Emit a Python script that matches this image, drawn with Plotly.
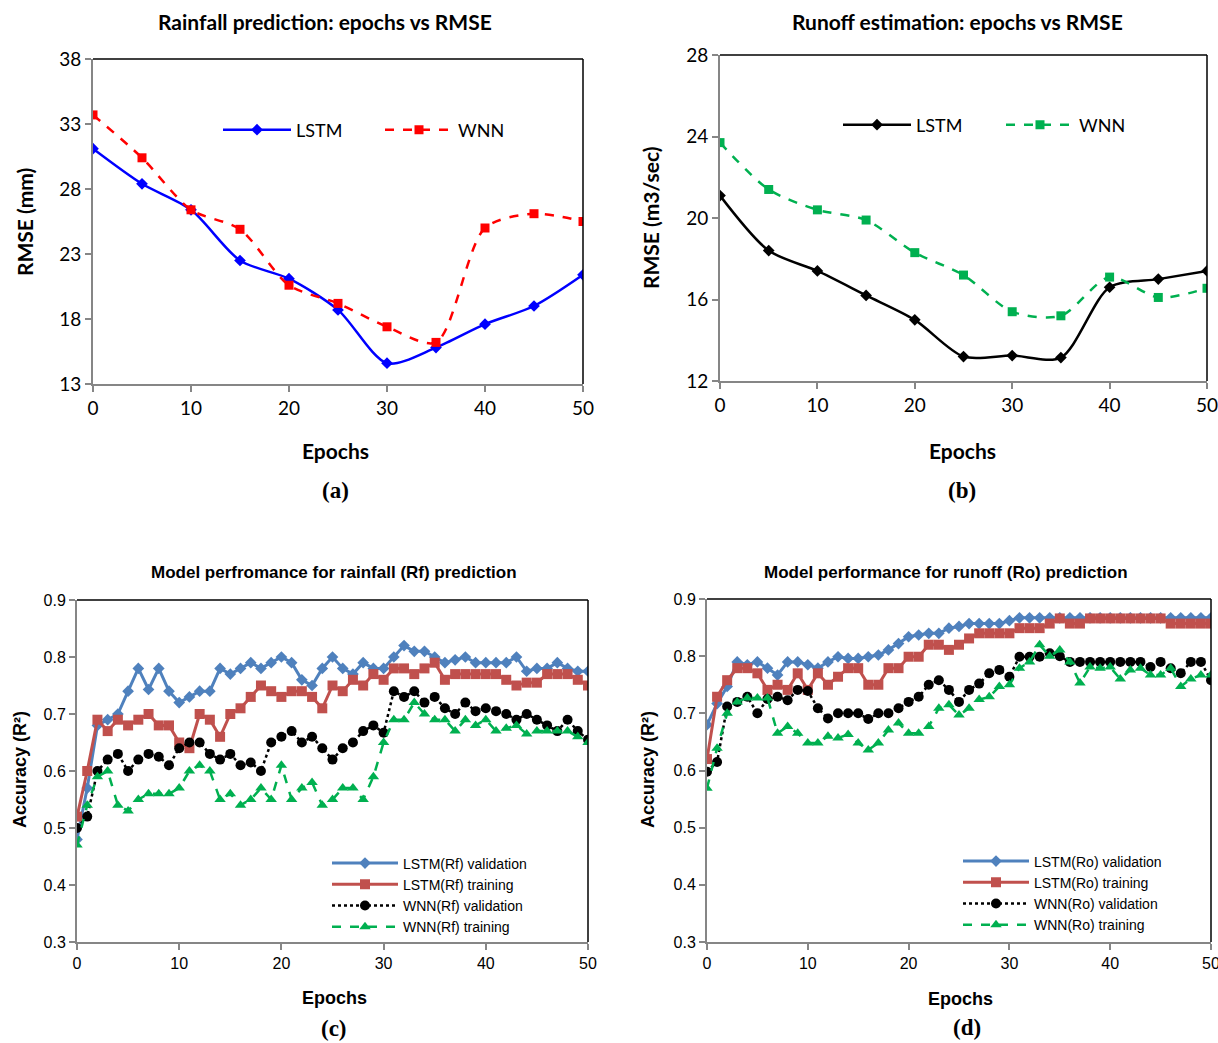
import plotly.graph_objects as go

W, H = 1218, 1043

# ---------------- data ----------------
epochs_ab = [0, 5, 10, 15, 20, 25, 30, 35, 40, 45, 50]
rain_lstm = [31.1, 28.4, 26.4, 22.5, 21.1, 18.7, 14.6, 15.8, 17.6, 19.0, 21.4]
rain_wnn = [33.7, 30.4, 26.4, 24.9, 20.6, 19.2, 17.4, 16.2, 25.0, 26.1, 25.5]
runoff_lstm = [21.1, 18.4, 17.4, 16.2, 15.0, 13.2, 13.25, 13.15, 16.6, 17.0, 17.4]
runoff_wnn = [23.7, 21.4, 20.4, 19.9, 18.3, 17.2, 15.4, 15.2, 17.1, 16.1, 16.55]

epochs_cd = list(range(51))
rf_lstm_val = [0.48, 0.57, 0.68, 0.69, 0.70, 0.74, 0.78, 0.743, 0.78, 0.74,
               0.72, 0.73, 0.74, 0.74, 0.78, 0.77, 0.78, 0.79, 0.78, 0.79,
               0.80, 0.79, 0.76, 0.75, 0.78, 0.80, 0.78, 0.77, 0.79, 0.78,
               0.78, 0.80, 0.82, 0.81, 0.81, 0.80, 0.79, 0.795, 0.80, 0.79,
               0.79, 0.79, 0.79, 0.80, 0.775, 0.78, 0.78, 0.79, 0.78, 0.775,
               0.775]
rf_lstm_train = [0.52, 0.60, 0.69, 0.67, 0.69, 0.68, 0.69, 0.70, 0.68, 0.68,
                 0.65, 0.64, 0.70, 0.69, 0.66, 0.70, 0.71, 0.73, 0.75, 0.74,
                 0.73, 0.74, 0.74, 0.73, 0.71, 0.75, 0.74, 0.76, 0.75, 0.77,
                 0.76, 0.78, 0.78, 0.77, 0.78, 0.79, 0.76, 0.77, 0.77, 0.77,
                 0.77, 0.77, 0.76, 0.75, 0.755, 0.755, 0.77, 0.77, 0.77, 0.76,
                 0.75]
rf_wnn_val = [0.50, 0.52, 0.60, 0.62, 0.63, 0.60, 0.62, 0.63, 0.625, 0.61,
              0.64, 0.65, 0.65, 0.63, 0.62, 0.63, 0.61, 0.615, 0.60, 0.65,
              0.66, 0.67, 0.65, 0.66, 0.64, 0.62, 0.64, 0.65, 0.67, 0.68,
              0.667, 0.74, 0.73, 0.74, 0.72, 0.73, 0.71, 0.70, 0.72, 0.705,
              0.71, 0.705, 0.70, 0.69, 0.70, 0.69, 0.68, 0.67, 0.69, 0.67,
              0.655]
rf_wnn_train = [0.47, 0.54, 0.59, 0.60, 0.54, 0.53, 0.55, 0.56, 0.56, 0.56,
                0.57, 0.60, 0.61, 0.60, 0.55, 0.56, 0.54, 0.55, 0.57, 0.55,
                0.61, 0.55, 0.57, 0.58, 0.54, 0.55, 0.57, 0.57, 0.55, 0.59,
                0.65, 0.69, 0.69, 0.72, 0.70, 0.69, 0.69, 0.67, 0.69, 0.68,
                0.69, 0.67, 0.675, 0.68, 0.665, 0.67, 0.67, 0.67, 0.67, 0.66,
                0.65]

ro_lstm_val = [0.68, 0.717, 0.747, 0.79, 0.785, 0.79, 0.779, 0.767, 0.79, 0.79,
               0.785, 0.779, 0.79, 0.799, 0.796, 0.796, 0.799, 0.802, 0.811, 0.822,
               0.834, 0.837, 0.84, 0.84, 0.849, 0.852, 0.857, 0.857, 0.857, 0.857,
               0.862, 0.867, 0.867, 0.867, 0.867, 0.867, 0.867, 0.867, 0.867, 0.867,
               0.867, 0.867, 0.867, 0.867, 0.867, 0.867, 0.867, 0.867, 0.867, 0.867,
               0.867]
ro_lstm_train = [0.62, 0.729, 0.758, 0.779, 0.779, 0.77, 0.741, 0.75, 0.741, 0.77,
                 0.741, 0.77, 0.75, 0.764, 0.779, 0.779, 0.75, 0.75, 0.779, 0.779,
                 0.799, 0.799, 0.82, 0.82, 0.811, 0.82, 0.831, 0.84, 0.84, 0.84,
                 0.84, 0.849, 0.849, 0.849, 0.857, 0.866, 0.857, 0.857, 0.866, 0.866,
                 0.866, 0.866, 0.866, 0.866, 0.866, 0.866, 0.857, 0.857, 0.857, 0.857,
                 0.857]
ro_wnn_val = [0.598, 0.615, 0.712, 0.72, 0.729, 0.70, 0.725, 0.729, 0.723, 0.741,
              0.739, 0.709, 0.691, 0.70, 0.70, 0.70, 0.69, 0.70, 0.70, 0.709,
              0.72, 0.729, 0.75, 0.758, 0.741, 0.72, 0.741, 0.752, 0.77, 0.776,
              0.764, 0.799, 0.799, 0.799, 0.805, 0.80, 0.79, 0.79, 0.79, 0.79,
              0.79, 0.79, 0.79, 0.79, 0.781, 0.79, 0.779, 0.77, 0.79, 0.79,
              0.758]
ro_wnn_train = [0.569, 0.639, 0.70, 0.72, 0.727, 0.727, 0.727, 0.665, 0.677, 0.665,
                0.648, 0.648, 0.66, 0.657, 0.663, 0.648, 0.636, 0.648, 0.671, 0.683,
                0.665, 0.665, 0.677, 0.709, 0.715, 0.697, 0.709, 0.724, 0.729, 0.747,
                0.75, 0.779, 0.79, 0.82, 0.80, 0.811, 0.79, 0.753, 0.781, 0.779,
                0.781, 0.76, 0.776, 0.779, 0.767, 0.767, 0.779, 0.747, 0.76, 0.767,
                0.767]

# ---------------- style ----------------
CAL = "Lato, Carlito, Calibri, sans-serif"
ARI = "Liberation Sans, Arial, sans-serif"
SER = "Liberation Serif, Times New Roman, serif"
GRAY = "#868686"

def px_x(p):
    return p / W

def px_y(p):
    return 1 - p / H

# plot areas (window pixels): left, right, top, bottom
areas = {
    "a": (93, 583, 59, 384),
    "b": (720, 1207, 55, 381),
    "c": (77, 588, 600, 942),
    "d": (707, 1211, 599, 942),
}

fig = go.Figure()

# (a)
fig.add_trace(go.Scatter(x=epochs_ab, y=rain_lstm, name="LSTM", mode="lines+markers",
                         line=dict(color="#0000FF", width=2.5, shape="spline", smoothing=0.8),
                         marker=dict(symbol="diamond", size=9, color="#0000FF"),
                         xaxis="x", yaxis="y", legend="legend"))
fig.add_trace(go.Scatter(x=epochs_ab, y=rain_wnn, name="WNN", mode="lines+markers",
                         line=dict(color="#FF0000", width=2.5, dash="dash", shape="spline", smoothing=0.8),
                         marker=dict(symbol="square", size=9, color="#FF0000"),
                         xaxis="x", yaxis="y", legend="legend"))
# (b)
fig.add_trace(go.Scatter(x=epochs_ab, y=runoff_lstm, name="LSTM", mode="lines+markers",
                         line=dict(color="#000000", width=2.5, shape="spline", smoothing=0.8),
                         marker=dict(symbol="diamond", size=9, color="#000000"),
                         xaxis="x2", yaxis="y2", legend="legend2"))
fig.add_trace(go.Scatter(x=epochs_ab, y=runoff_wnn, name="WNN", mode="lines+markers",
                         line=dict(color="#00B050", width=2.5, dash="dash", shape="spline", smoothing=0.8),
                         marker=dict(symbol="square", size=9, color="#00B050"),
                         xaxis="x2", yaxis="y2", legend="legend2"))

# (c) & (d)
def four(xa, ya, leg, tag, lv, lt, wv, wt):
    fig.add_trace(go.Scatter(x=epochs_cd, y=lv, name=f"LSTM({tag}) validation", mode="lines+markers",
                             line=dict(color="#4F81BD", width=3),
                             marker=dict(symbol="diamond", size=9, color="#4F81BD"),
                             xaxis=xa, yaxis=ya, legend=leg))
    fig.add_trace(go.Scatter(x=epochs_cd, y=lt, name=f"LSTM({tag}) training", mode="lines+markers",
                             line=dict(color="#C0504D", width=3),
                             marker=dict(symbol="square", size=10, color="#C0504D"),
                             xaxis=xa, yaxis=ya, legend=leg))
    fig.add_trace(go.Scatter(x=epochs_cd, y=wv, name=f"WNN({tag}) validation", mode="lines+markers",
                             line=dict(color="#000000", width=2.5, dash="dot"),
                             marker=dict(symbol="circle", size=10, color="#000000"),
                             xaxis=xa, yaxis=ya, legend=leg))
    fig.add_trace(go.Scatter(x=epochs_cd, y=wt, name=f"WNN({tag}) training", mode="lines+markers",
                             line=dict(color="#00B050", width=2.5, dash="dash"),
                             marker=dict(symbol="triangle-up", size=10, color="#00B050"),
                             xaxis=xa, yaxis=ya, legend=leg))

four("x3", "y3", "legend3", "Rf", rf_lstm_val, rf_lstm_train, rf_wnn_val, rf_wnn_train)
four("x4", "y4", "legend4", "Ro", ro_lstm_val, ro_lstm_train, ro_wnn_val, ro_wnn_train)

layout = dict(width=W, height=H, autosize=False,
              margin=dict(l=0, r=0, t=0, b=0, autoexpand=False),
              paper_bgcolor="white", plot_bgcolor="white",
              showlegend=True)

def axes(key, suffix, yrange, ydtick, font, size, yfmt=None):
    l, r, t, b = areas[key]
    layout["xaxis" + suffix] = dict(
        domain=[px_x(l), px_x(r)], range=[0, 50], tick0=0, dtick=10,
        anchor="y" + suffix, showgrid=False, zeroline=False,
        showline=True, linecolor=GRAY, linewidth=1.5,
        ticks="outside", ticklen=6, tickcolor=GRAY, tickwidth=1.5,
        ticklabeloverflow="allow",
        tickfont=dict(family=font, size=size, color="black"))
    ya = dict(
        domain=[px_y(b), px_y(t)], range=yrange, tick0=yrange[0], dtick=ydtick,
        anchor="x" + suffix, showgrid=False, zeroline=False,
        showline=True, linecolor=GRAY, linewidth=2,
        ticks="outside", ticklen=6, tickcolor=GRAY, tickwidth=1.5,
        ticklabeloverflow="allow",
        tickfont=dict(family=font, size=size, color="black"))
    if yfmt:
        ya["tickformat"] = yfmt
    layout["yaxis" + suffix] = ya

axes("a", "", [13, 38], 5, CAL, 19)
axes("b", "2", [12, 28], 4, CAL, 19)
axes("c", "3", [0.3, 0.9], 0.1, ARI, 16, ".1f")
axes("d", "4", [0.3, 0.9], 0.1, ARI, 16, ".1f")

shapes = []
for key, (l, r, t, b) in areas.items():
    shapes.append(dict(type="line", xref="paper", yref="paper",
                       x0=px_x(l), x1=px_x(r), y0=px_y(t), y1=px_y(t),
                       line=dict(color="black", width=1.5)))
    shapes.append(dict(type="line", xref="paper", yref="paper",
                       x0=px_x(r), x1=px_x(r), y0=px_y(t), y1=px_y(b),
                       line=dict(color="black", width=1.5)))
layout["shapes"] = shapes

# legends
layout["legend"] = dict(orientation="h", x=px_x(218), y=px_y(130), xanchor="left", yanchor="middle",
                        bgcolor="rgba(0,0,0,0)", font=dict(family=CAL, size=18, color="black"),
                        entrywidth=79, entrywidthmode="pixels", itemwidth=68)
layout["legend2"] = dict(orientation="h", x=px_x(838), y=px_y(125), xanchor="left", yanchor="middle",
                         bgcolor="rgba(0,0,0,0)", font=dict(family=CAL, size=18, color="black"),
                         entrywidth=80, entrywidthmode="pixels", itemwidth=68)
layout["legend3"] = dict(x=px_x(327), y=px_y(895), xanchor="left", yanchor="middle",
                         bgcolor="rgba(0,0,0,0)", font=dict(family=ARI, size=14, color="black"),
                         tracegroupgap=0, itemwidth=66)
layout["legend4"] = dict(x=px_x(958), y=px_y(893), xanchor="left", yanchor="middle",
                         bgcolor="rgba(0,0,0,0)", font=dict(family=ARI, size=14, color="black"),
                         tracegroupgap=0, itemwidth=66)

ann = []
def text(x, y, s, family, size, angle=0):
    ann.append(dict(x=px_x(x), y=px_y(y), xref="paper", yref="paper", text=s,
                    showarrow=False, xanchor="center", yanchor="middle",
                    textangle=angle, font=dict(family=family, size=size, color="black")))

text(325, 22, "<b>Rainfall prediction: epochs vs RMSE</b>", CAL, 21)
text(957, 22, "<b>Runoff estimation: epochs vs RMSE</b>", CAL, 21)
text(334, 572, "<b>Model perfromance for rainfall (Rf) prediction</b>", ARI, 17)
text(946, 572, "<b>Model performance for runoff (Ro) prediction</b>", ARI, 17)

text(335, 450, "<b>Epochs</b>", CAL, 21)
text(962, 450, "<b>Epochs</b>", CAL, 21)
text(334, 998, "<b>Epochs</b>", ARI, 18)
text(960, 999, "<b>Epochs</b>", ARI, 18)

text(335, 490, "<b>(a)</b>", SER, 23)
text(962, 490, "<b>(b)</b>", SER, 23)
text(334, 1028, "<b>(c)</b>", SER, 23)
text(967, 1027, "<b>(d)</b>", SER, 23)

text(24, 222, "<b>RMSE (mm)</b>", CAL, 21, -90)
text(650, 218, "<b>RMSE (m3/sec)</b>", CAL, 21, -90)
text(20, 770, "<b>Accuracy (R²)</b>", ARI, 18, -90)
text(648, 770, "<b>Accuracy (R²)</b>", ARI, 18, -90)
layout["annotations"] = ann

fig.update_layout(**layout)
fig.write_html("out.html",
               config={"displayModeBar": False},
               post_script="document.body.style.margin='0';document.body.style.overflow='hidden';")
